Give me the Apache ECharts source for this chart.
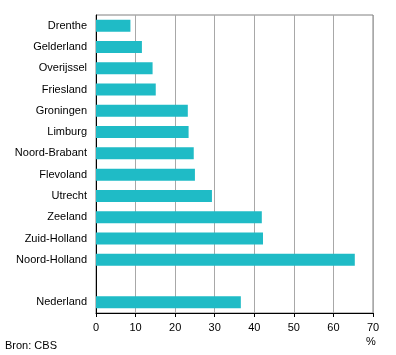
<!DOCTYPE html>
<html>
<head>
<meta charset="utf-8">
<script src="https://cdn.jsdelivr.net/npm/echarts@6/dist/echarts.min.js"></script>
<style>
html,body{margin:0;padding:0;background:#fff;}
#chart{width:396px;height:355px;}
</style>
</head>
<body>
<div id="chart"></div>
<script>
const categories = ['Drenthe','Gelderland','Overijssel','Friesland','Groningen','Limburg','Noord-Brabant','Flevoland','Utrecht','Zeeland','Zuid-Holland','Noord-Holland','','Nederland'];
const values = [8.7, 11.6, 14.3, 15.1, 23.2, 23.4, 24.7, 25.0, 29.3, 41.9, 42.2, 65.4, null, 36.6];
const xTicks = [0, 10, 20, 30, 40, 50, 60, 70];
const unitLabel = '%';
const sourceLabel = 'Bron: CBS';

const chart = echarts.init(document.getElementById('chart'), null, {renderer: 'canvas'});
const font = 'Arial, "Liberation Sans", sans-serif';
chart.setOption({
  animation: false,
  textStyle: {fontFamily: font},
  grid: {left: 96, right: 23, top: 15, bottom: 42, show: true, borderColor: '#808080', borderWidth: 1, backgroundColor: 'transparent'},
  xAxis: {
    type: 'value',
    min: xTicks[0],
    max: xTicks[xTicks.length - 1],
    interval: 10,
    axisLine: {show: true, lineStyle: {color: '#000', width: 1}},
    axisTick: {show: true, length: 4, lineStyle: {color: '#000'}},
    axisLabel: {color: '#000', fontSize: 11, fontFamily: font, margin: 9},
    splitLine: {show: true, lineStyle: {color: '#a8a8a8', width: 1}}
  },
  yAxis: {
    type: 'category',
    inverse: true,
    data: categories,
    axisLine: {show: true, lineStyle: {color: '#000', width: 1}},
    axisTick: {show: false},
    axisLabel: {color: '#000', fontSize: 11, fontFamily: font, margin: 9},
    splitLine: {show: false}
  },
  series: [{
    type: 'bar',
    data: values,
    barWidth: 12,
    itemStyle: {color: '#1fbbc6'},
    silent: true
  }],
  graphic: [
    {type: 'text', left: 366, top: 336, style: {text: unitLabel, fill: '#000', font: '11px ' + font}},
    {type: 'text', left: 5, top: 340, style: {text: sourceLabel, fill: '#000', font: '11px ' + font}}
  ]
});
</script>
</body>
</html>
